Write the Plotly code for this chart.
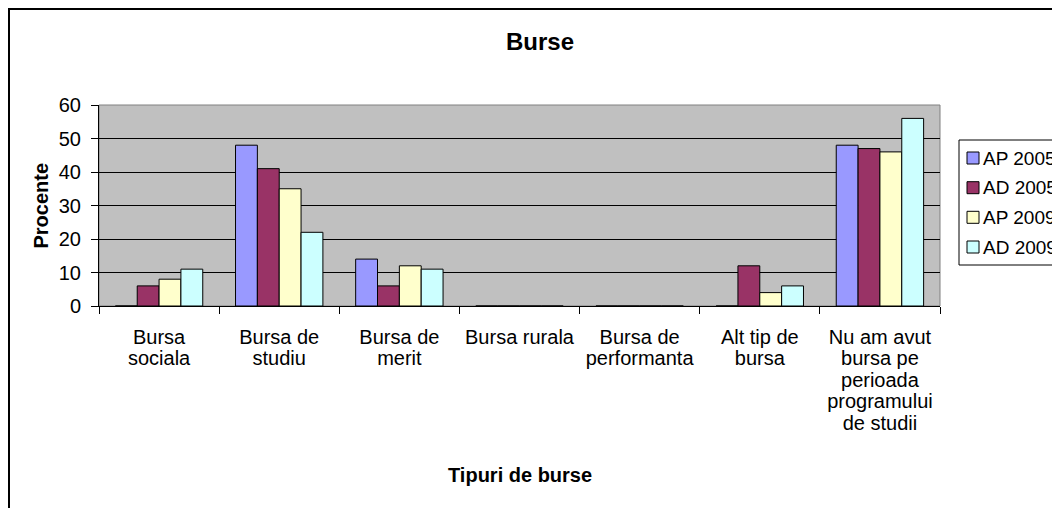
import plotly.graph_objects as go

categories = [
    "Bursa<br>sociala",
    "Bursa de<br>studiu",
    "Bursa de<br>merit",
    "Bursa rurala",
    "Bursa de<br>performanta",
    "Alt tip de<br>bursa",
    "Nu am avut<br>bursa pe<br>perioada<br>programului<br>de studii",
]
series_names = ["AP 2005", "AD 2005", "AP 2009", "AD 2009"]
ap_2005 = [0, 48, 14, 0, 0, 0, 48]
ad_2005 = [6, 41, 6, 0, 0, 12, 47]
ap_2009 = [8, 35, 12, 0, 0, 4, 46]
ad_2009 = [11, 22, 11, 0, 0, 6, 56]
series_values = [ap_2005, ad_2005, ap_2009, ad_2009]
colors = ["#9999FF", "#993366", "#FFFFCC", "#CCFFFF"]
y_ticks = [0, 10, 20, 30, 40, 50, 60]

FONT = "Liberation Sans, Arial, sans-serif"
OFF = 8  # page body margin
W, H = 1052, 500
L, T = 91, 97
PW, PH = 841, 201
R = W - L - PW
B = H - T - PH


def px_x(p):
    """screen x pixel -> paper x"""
    return (p - OFF - L) / PW


def px_y(p):
    """screen y pixel -> paper y"""
    return (T + PH - (p - OFF)) / PH


# tick labels: 20px glyphs, tighter (Excel-like) line spacing
tick_text = [
    "<br>".join('<span style="font-size:20px">%s</span>' % part
                for part in c.split("<br>"))
    for c in categories
]

fig = go.Figure()
for name, vals, col in zip(series_names, series_values, colors):
    fig.add_trace(go.Bar(
        x=categories, y=vals, name=name, showlegend=False,
        marker=dict(color=col, line=dict(color="black", width=1)),
    ))

shapes = [
    dict(type="rect", xref="paper", yref="paper", x0=0, x1=1, y0=0, y1=1,
         line=dict(color="#808080", width=1), layer="below"),
    dict(type="rect", xref="paper", yref="paper",
         x0=px_x(OFF + 1), x1=px_x(1100), y0=px_y(560), y1=px_y(OFF + 1),
         line=dict(color="black", width=2), layer="above"),
    # legend box
    dict(type="rect", xref="paper", yref="paper",
         x0=px_x(959), x1=px_x(1100), y0=px_y(265), y1=px_y(140),
         line=dict(color="black", width=1), fillcolor="white", layer="above"),
]
annotations = [
    dict(text="<b>Procente</b>", xref="paper", yref="paper",
         x=px_x(40), y=0.5, textangle=-90, showarrow=False,
         xanchor="center", yanchor="middle",
         font=dict(family=FONT, size=20, color="black")),
    dict(text="<b>Tipuri de burse</b>", xref="paper", yref="paper",
         x=px_x(520), y=px_y(475), showarrow=False,
         xanchor="center", yanchor="middle",
         font=dict(family=FONT, size=20, color="black")),
]
legend_y = [158, 187.7, 217.3, 247]
for name, col, yc in zip(series_names, colors, legend_y):
    shapes.append(dict(
        type="rect", xref="paper", yref="paper",
        x0=px_x(967), x1=px_x(979), y0=px_y(yc + 6), y1=px_y(yc - 6),
        line=dict(color="black", width=1), fillcolor=col, layer="above"))
    annotations.append(dict(
        text=name, xref="paper", yref="paper", x=px_x(981), y=px_y(yc),
        xanchor="left", yanchor="middle", showarrow=False,
        font=dict(family=FONT, size=19, color="black")))

fig.update_layout(
    width=W, height=H,
    margin=dict(l=L, r=R, t=T, b=B, pad=0),
    paper_bgcolor="white",
    plot_bgcolor="#C0C0C0",
    barmode="group",
    bargap=1.5 / 5.5,
    bargroupgap=0,
    font=dict(family=FONT, size=20, color="black"),
    title=dict(text="<b>Burse</b>", x=(540 - OFF) / W, xanchor="center",
               y=1 - (42 - OFF) / H, yanchor="middle",
               font=dict(family=FONT, size=24, color="black")),
    showlegend=False,
    xaxis=dict(
        showline=True, linecolor="black", linewidth=1,
        ticks="outside", ticklen=7, tickcolor="black",
        tickson="boundaries", showgrid=False,
        tickmode="array", tickvals=categories, ticktext=tick_text,
        ticklabelstandoff=17,
        tickfont=dict(family=FONT, size=16.5, color="black"),
    ),
    yaxis=dict(
        range=[0, 60], tickvals=y_ticks,
        showline=True, linecolor="black", linewidth=1,
        ticks="outside", ticklen=7, tickcolor="black",
        showgrid=True, gridcolor="black", gridwidth=1,
        zeroline=False, ticklabelstandoff=6,
        tickfont=dict(family=FONT, size=20, color="black"),
    ),
    shapes=shapes,
    annotations=annotations,
)

fig.write_html("out.html")
